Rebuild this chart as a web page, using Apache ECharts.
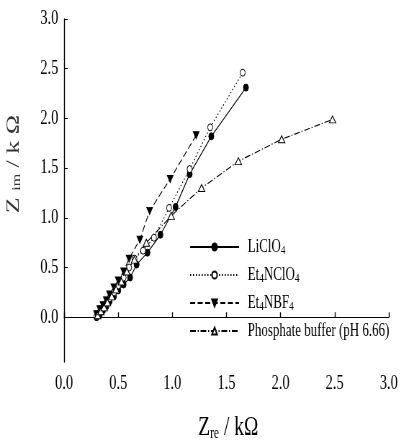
<!DOCTYPE html>
<html>
<head>
<meta charset="utf-8">
<script src="https://cdn.jsdelivr.net/npm/echarts@6/dist/echarts.min.js"></script>
<style>
  html, body { margin: 0; padding: 0; background: #fff; overflow: hidden; }
  #wrap { width: 401px; height: 441px; overflow: hidden; }
  /* the figure is drawn on a wider canvas and condensed horizontally */
  #chart { width: 557px; height: 441px; transform: scaleX(0.72); transform-origin: 0 0; }
</style>
</head>
<body>
<div id="wrap"><div id="chart"></div></div>
<script>
// Nyquist data: [Z_re, Z_im] in kΩ
const seriesNames = ['LiClO4', 'Et4NClO4', 'Et4NBF4', 'Phosphate buffer (pH 6.66)'];

const liClO4 = [
  [0.30, 0.00], [0.33, 0.03], [0.36, 0.07], [0.39, 0.11], [0.42, 0.16],
  [0.46, 0.21], [0.50, 0.27], [0.55, 0.33], [0.61, 0.40], [0.67, 0.53],
  [0.77, 0.65], [0.89, 0.83], [1.03, 1.11], [1.16, 1.44], [1.36, 1.82],
  [1.68, 2.31]
];

const et4NClO4 = [
  [0.30, 0.01], [0.33, 0.05], [0.36, 0.09], [0.39, 0.14], [0.42, 0.19],
  [0.46, 0.25], [0.50, 0.32], [0.55, 0.40], [0.60, 0.50], [0.65, 0.59],
  [0.73, 0.67], [0.83, 0.80], [0.97, 1.10], [1.16, 1.49], [1.35, 1.91],
  [1.65, 2.46]
];

const et4NBF4 = [
  [0.30, 0.03], [0.33, 0.08], [0.36, 0.12], [0.39, 0.17], [0.42, 0.23],
  [0.46, 0.30], [0.50, 0.37], [0.55, 0.46], [0.60, 0.59], [0.70, 0.78],
  [0.79, 1.07], [0.98, 1.39], [1.22, 1.83]
];

const phosphate = [
  [0.31, 0.02], [0.34, 0.06], [0.37, 0.10], [0.40, 0.15], [0.44, 0.21],
  [0.48, 0.28], [0.53, 0.36], [0.58, 0.46], [0.65, 0.58], [0.76, 0.75],
  [0.99, 1.02], [1.27, 1.30], [1.61, 1.57], [2.01, 1.79], [2.48, 1.99]
];

const yTicks = [0, 0.5, 1.0, 1.5, 2.0, 2.5, 3.0];

const legendLabels = {
  'LiClO4': 'LiClO{s|4}',
  'Et4NClO4': 'Et{s|4}NClO{s|4}',
  'Et4NBF4': 'Et{s|4}NBF{s|4}',
  'Phosphate buffer (pH 6.66)': 'Phosphate buffer (pH 6.66)'
};

const FONT = '"Liberation Serif", "DejaVu Serif", serif';
const INK = '#000';

const chart = echarts.init(document.getElementById('chart'), null, { renderer: 'canvas' });

function lineSeries(name, data, symbol, opts) {
  return Object.assign({
    name: name,
    type: 'line',
    data: data,
    symbol: symbol,
    symbolSize: 7,
    showAllSymbol: true,
    animation: false,
    lineStyle: { color: INK, width: 1.1, type: 'solid' },
    itemStyle: { color: INK, borderColor: INK, borderWidth: 1 },
    emphasis: { disabled: true }
  }, opts);
}

const subStyle = { fontFamily: FONT, fontWeight: 'normal', fontSize: 16, lineHeight: 4, verticalAlign: 'bottom' };

chart.setOption({
  backgroundColor: '#fff',
  animation: false,
  grid: { left: 89, right: 17, top: 19, bottom: 79, containLabel: false, outerBoundsMode: 'none' },
  xAxis: {
    type: 'value',
    min: 0, max: 3, interval: 0.5,
    axisLine: { lineStyle: { color: INK, width: 1 } },
    axisTick: { inside: true, length: 5, lineStyle: { color: INK, width: 1.4 } },
    axisLabel: {
      color: INK, fontFamily: FONT, fontSize: 20, margin: 12,
      formatter: v => v.toFixed(1)
    },
    splitLine: { show: false }
  },
  yAxis: {
    type: 'value',
    min: -0.45, max: 3,
    axisLine: { show: true, lineStyle: { color: INK, width: 1.4 } },
    axisTick: { show: true, inside: true, length: 5, customValues: yTicks, lineStyle: { color: INK, width: 1 } },
    axisLabel: {
      color: INK, fontFamily: FONT, fontSize: 20, margin: 8,
      customValues: yTicks,
      formatter: v => Number(v).toFixed(1)
    },
    splitLine: { show: false }
  },
  legend: {
    orient: 'vertical',
    left: 258, top: 232,
    itemWidth: 68, itemHeight: 9, itemGap: 8,
    data: seriesNames,
    formatter: name => legendLabels[name],
    textStyle: {
      color: INK, fontFamily: FONT, fontSize: 18, lineHeight: 20,
      padding: [0, 0, 0, 7],
      rich: {
        s: { fontFamily: FONT, fontSize: 13, lineHeight: 3, verticalAlign: 'bottom', color: INK }
      }
    },
    selectedMode: false
  },
  graphic: [
    {
      type: 'text', x: 317, y: 428,
      style: {
        text: 'Z{s|re} / kΩ',
        fontFamily: FONT, fontSize: 27, fontWeight: 'normal', fill: INK,
        align: 'center', verticalAlign: 'middle',
        rich: { s: Object.assign({ fill: INK }, subStyle) }
      }
    },
    {
      type: 'text', x: 19, y: 164, rotation: Math.PI / 2,
      style: {
        text: 'Z {s|im} / k Ω',
        fontFamily: FONT, fontSize: 26, fontWeight: 'normal', fill: '#333',
        align: 'center', verticalAlign: 'middle',
        rich: { s: Object.assign({ fill: '#333' }, subStyle) }
      }
    }
  ],
  series: [
    lineSeries(seriesNames[0], liClO4, 'circle', {
      lineStyle: { color: INK, width: 1.1, type: 'solid' }
    }),
    lineSeries(seriesNames[1], et4NClO4, 'circle', {
      lineStyle: { color: INK, width: 1.1, type: [1.5, 2.5] },
      itemStyle: { color: '#fff', borderColor: INK, borderWidth: 1 }
    }),
    lineSeries(seriesNames[2], et4NBF4, 'triangle', {
      symbolRotate: 180,
      symbolSize: [8, 7],
      lineStyle: { color: INK, width: 1.1, type: [7, 3.5] }
    }),
    lineSeries(seriesNames[3], phosphate, 'triangle', {
      symbolSize: [9, 7],
      lineStyle: { color: INK, width: 1.1, type: [8, 2.5, 1.5, 2.5] },
      itemStyle: { color: '#fff', borderColor: INK, borderWidth: 1 }
    })
  ]
});
</script>
</body>
</html>
